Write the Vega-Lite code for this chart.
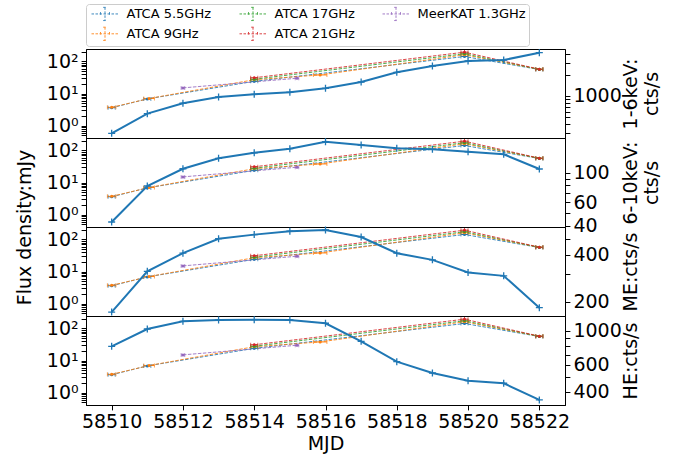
{
"$schema": "https://vega.github.io/schema/vega-lite/v6.json",
"padding": {"left": 14, "top": 3, "right": 5, "bottom": 5},
"background": "white",
"spacing": 0,
"bounds": "flush",
"config": {
 "font": "DejaVu Sans",
 "view": {"stroke": "#000", "strokeWidth": 1},
 "concat": {"spacing": 0},
 "axis": {"labelFont": "DejaVu Sans", "titleFont": "DejaVu Sans", "labelFontSize": 19, "titleFontSize": 19, "titleFontWeight": "normal", "labelColor": "#000", "titleColor": "#000", "tickColor": "#000", "domainColor": "#000", "domainWidth": 1, "tickWidth": 1, "grid": false, "labelOverlap": false, "labelFlush": false, "labelBound": false, "tickSize": 4.9, "labelPadding": 3}
},
"datasets": {
 "radio": [
  {"band":"ATCA 5.5GHz","mjd":58510.0,"mjd_lo":58509.9,"mjd_hi":58510.1,"flux":3.6,"flux_lo":3.3,"flux_hi":3.9},
  {"band":"ATCA 5.5GHz","mjd":58511.0,"mjd_lo":58510.9,"mjd_hi":58511.1,"flux":6.8,"flux_lo":6.3,"flux_hi":7.3},
  {"band":"ATCA 5.5GHz","mjd":58514.0,"mjd_lo":58513.9,"mjd_hi":58514.1,"flux":24,"flux_lo":22,"flux_hi":26},
  {"band":"ATCA 5.5GHz","mjd":58519.9,"mjd_lo":58519.8,"mjd_hi":58520.0,"flux":143,"flux_lo":132,"flux_hi":154},
  {"band":"ATCA 5.5GHz","mjd":58522.0,"mjd_lo":58521.9,"mjd_hi":58522.1,"flux":56,"flux_lo":52,"flux_hi":60},
  {"band":"ATCA 9GHz","mjd":58510.0,"mjd_lo":58509.88,"mjd_hi":58510.12,"flux":3.7,"flux_lo":3.45,"flux_hi":3.95},
  {"band":"ATCA 9GHz","mjd":58511.05,"mjd_lo":58510.9,"mjd_hi":58511.2,"flux":7.0,"flux_lo":6.5,"flux_hi":7.5},
  {"band":"ATCA 9GHz","mjd":58514.0,"mjd_lo":58513.9,"mjd_hi":58514.1,"flux":27,"flux_lo":25,"flux_hi":29},
  {"band":"ATCA 9GHz","mjd":58515.85,"mjd_lo":58515.66,"mjd_hi":58516.04,"flux":38,"flux_lo":35.5,"flux_hi":40.5},
  {"band":"ATCA 9GHz","mjd":58519.9,"mjd_lo":58519.8,"mjd_hi":58520.0,"flux":162,"flux_lo":150,"flux_hi":174},
  {"band":"ATCA 9GHz","mjd":58522.0,"mjd_lo":58521.9,"mjd_hi":58522.1,"flux":57,"flux_lo":53,"flux_hi":61},
  {"band":"ATCA 17GHz","mjd":58514.0,"mjd_lo":58513.9,"mjd_hi":58514.1,"flux":28,"flux_lo":26,"flux_hi":30},
  {"band":"ATCA 17GHz","mjd":58519.9,"mjd_lo":58519.8,"mjd_hi":58520.0,"flux":174,"flux_lo":160,"flux_hi":188},
  {"band":"ATCA 17GHz","mjd":58522.0,"mjd_lo":58521.9,"mjd_hi":58522.1,"flux":57,"flux_lo":53,"flux_hi":61},
  {"band":"ATCA 21GHz","mjd":58514.0,"mjd_lo":58513.9,"mjd_hi":58514.1,"flux":31,"flux_lo":28.5,"flux_hi":33.5},
  {"band":"ATCA 21GHz","mjd":58519.9,"mjd_lo":58519.8,"mjd_hi":58520.0,"flux":195,"flux_lo":168,"flux_hi":225},
  {"band":"ATCA 21GHz","mjd":58522.0,"mjd_lo":58521.9,"mjd_hi":58522.1,"flux":57.5,"flux_lo":53.5,"flux_hi":61.5},
  {"band":"MeerKAT 1.3GHz","mjd":58512.0,"mjd_lo":58511.95,"mjd_hi":58512.05,"flux":15,"flux_lo":14,"flux_hi":16},
  {"band":"MeerKAT 1.3GHz","mjd":58515.2,"mjd_lo":58515.15,"mjd_hi":58515.25,"flux":30,"flux_lo":28,"flux_hi":32}
 ],
 "xray": [
  {"mjd":58510,"soft":293,"hard":42.7,"me":172.5,"he":794},
  {"mjd":58511,"soft":559,"hard":79.3,"me":313,"he":1030},
  {"mjd":58512,"soft":787,"hard":106.7,"me":408,"he":1157},
  {"mjd":58513,"soft":968,"hard":127.6,"me":504,"he":1180},
  {"mjd":58514,"soft":1057,"hard":140.5,"me":535,"he":1186},
  {"mjd":58515,"soft":1130,"hard":150.6,"me":562,"he":1180},
  {"mjd":58516,"soft":1288,"hard":169.8,"me":573,"he":1123},
  {"mjd":58517,"soft":1585,"hard":160.4,"me":517,"he":856},
  {"mjd":58518,"soft":2180,"hard":151.6,"me":408,"he":630},
  {"mjd":58519,"soft":2683,"hard":149,"me":370,"he":531},
  {"mjd":58520,"soft":3162,"hard":142.9,"me":308,"he":473},
  {"mjd":58521,"soft":3266,"hard":136.7,"me":293,"he":455},
  {"mjd":58522,"soft":4155,"hard":106.2,"me":184,"he":354}
 ]
},
"vconcat": [
 {
  "width": 479, "height": 89,
  "resolve": {"scale": {"y": "independent"}},
  "layer": [
   {"data": {"name": "radio"},
    "layer": [
     {"mark": {"type": "line", "strokeDash": [3.5, 1.5], "strokeWidth": 1, "opacity": 0.85},
      "encoding": {
       "x": {"field": "mjd", "type": "quantitative", "scale": {"domain": [58509.28, 58522.72], "nice": false, "zero": false}, "axis": null},
       "y": {"field": "flux", "type": "quantitative", "title": null, "scale": {"type": "log", "domain": [0.41, 245], "nice": false}, "axis": {"orient": "left", "values": [0.5,0.6,0.7,0.8,0.9,1,2,3,4,5,6,7,8,9,10,20,30,40,50,60,70,80,90,100,200], "labelExpr": "datum.value == 1 ? '10⁰' : datum.value == 10 ? '10¹' : datum.value == 100 ? '10²' : ''", "encode": {"ticks": {"update": {"x2": {"signal": "abs(log(datum.value)/LN10 - round(log(datum.value)/LN10)) < 0.001 ? -4.9 : -2.8"}}}}}},
       "color": {"field": "band", "type": "nominal", "scale": {"domain": ["ATCA 5.5GHz", "ATCA 17GHz", "MeerKAT 1.3GHz", "ATCA 9GHz", "ATCA 21GHz"], "range": ["#1f77b4", "#2ca02c", "#9467bd", "#ff7f0e", "#d62728"]},
        "legend": {"orient": "top", "columns": 3, "title": null, "symbolType": "M-2.25,0H2.25M0,-1.1V1.1M-0.3,-1.1H0.3M-0.3,1.1H0.3M-0.75,-0.3V0.3M0.75,-0.3V0.3", "symbolSize": 144, "symbolOffset": 9.5, "symbolStrokeWidth": 1, "symbolDash": [2.5, 1.5], "labelFontSize": 13, "labelFont": "DejaVu Sans", "labelColor": "#000", "labelOffset": 15, "columnPadding": 25, "rowPadding": 1.3, "padding": 3, "strokeColor": "#cccccc", "fillColor": "#ffffff", "cornerRadius": 3, "offset": -4.3}}
      }},
     {"mark": {"type": "rule", "strokeWidth": 1},
      "encoding": {"x": {"field": "mjd_lo", "type": "quantitative", "axis": null}, "x2": {"field": "mjd_hi"}, "y": {"field": "flux", "type": "quantitative", "title": null}, "color": {"field": "band", "type": "nominal"}}},
     {"mark": {"type": "rule", "strokeWidth": 1},
      "encoding": {"x": {"field": "mjd", "type": "quantitative", "axis": null}, "y": {"field": "flux_lo", "type": "quantitative", "title": null}, "y2": {"field": "flux_hi"}, "color": {"field": "band", "type": "nominal"}}},
     {"mark": {"type": "tick", "orient": "vertical", "size": 4, "thickness": 1},
      "encoding": {"x": {"field": "mjd_lo", "type": "quantitative", "axis": null}, "y": {"field": "flux", "type": "quantitative", "title": null}, "color": {"field": "band", "type": "nominal"}}},
     {"mark": {"type": "tick", "orient": "vertical", "size": 4, "thickness": 1},
      "encoding": {"x": {"field": "mjd_hi", "type": "quantitative", "axis": null}, "y": {"field": "flux", "type": "quantitative", "title": null}, "color": {"field": "band", "type": "nominal"}}},
     {"mark": {"type": "point", "filled": true, "size": 9, "opacity": 1},
      "encoding": {"x": {"field": "mjd", "type": "quantitative", "axis": null}, "y": {"field": "flux", "type": "quantitative", "title": null}, "color": {"field": "band", "type": "nominal"}}}
    ]},
   {"data": {"name": "xray"},
    "encoding": {
     "x": {"field": "mjd", "type": "quantitative", "axis": null},
     "y": {"field": "soft", "type": "quantitative", "title": ["1-6keV:", "cts/s"], "scale": {"type": "log", "domain": [251, 4690], "nice": false},
      "axis": {"orient": "right", "values": [300,400,500,600,700,800,900,1000,2000,3000,4000], "labelExpr": "datum.value == 1000 ? '1000' : ''", "titleAngle": 270, "titleBaseline": "top", "titleAlign": "center", "titleX": 56, "titleY": 44.5, "encode": {"ticks": {"update": {"x2": {"signal": "abs(log(datum.value)/LN10 - round(log(datum.value)/LN10)) < 0.001 ? 4.9 : 2.8"}}}}}}
    },
    "layer": [
     {"mark": {"type": "line", "color": "#1f77b4", "strokeWidth": 2}},
     {"mark": {"type": "point", "shape": "M-1,0H1M0,-1V1", "filled": false, "color": "#1f77b4", "strokeWidth": 1.3, "size": 49, "opacity": 1}}
    ]}
  ]
 },
 {
  "width": 479, "height": 89,
  "resolve": {"scale": {"y": "independent"}},
  "layer": [
   {"data": {"name": "radio"},
    "layer": [
     {"mark": {"type": "line", "strokeDash": [3.5, 1.5], "strokeWidth": 1, "opacity": 0.85},
      "encoding": {
       "x": {"field": "mjd", "type": "quantitative", "scale": {"domain": [58509.28, 58522.72], "nice": false, "zero": false}, "axis": null},
       "y": {"field": "flux", "type": "quantitative", "title": null, "scale": {"type": "log", "domain": [0.41, 245], "nice": false}, "axis": {"orient": "left", "values": [0.5,0.6,0.7,0.8,0.9,1,2,3,4,5,6,7,8,9,10,20,30,40,50,60,70,80,90,100,200], "labelExpr": "datum.value == 1 ? '10⁰' : datum.value == 10 ? '10¹' : datum.value == 100 ? '10²' : ''", "encode": {"ticks": {"update": {"x2": {"signal": "abs(log(datum.value)/LN10 - round(log(datum.value)/LN10)) < 0.001 ? -4.9 : -2.8"}}}}}},
       "color": {"field": "band", "type": "nominal"}
      }},
     {"mark": {"type": "rule", "strokeWidth": 1},
      "encoding": {"x": {"field": "mjd_lo", "type": "quantitative", "axis": null}, "x2": {"field": "mjd_hi"}, "y": {"field": "flux", "type": "quantitative", "title": null}, "color": {"field": "band", "type": "nominal"}}},
     {"mark": {"type": "rule", "strokeWidth": 1},
      "encoding": {"x": {"field": "mjd", "type": "quantitative", "axis": null}, "y": {"field": "flux_lo", "type": "quantitative", "title": null}, "y2": {"field": "flux_hi"}, "color": {"field": "band", "type": "nominal"}}},
     {"mark": {"type": "tick", "orient": "vertical", "size": 4, "thickness": 1},
      "encoding": {"x": {"field": "mjd_lo", "type": "quantitative", "axis": null}, "y": {"field": "flux", "type": "quantitative", "title": null}, "color": {"field": "band", "type": "nominal"}}},
     {"mark": {"type": "tick", "orient": "vertical", "size": 4, "thickness": 1},
      "encoding": {"x": {"field": "mjd_hi", "type": "quantitative", "axis": null}, "y": {"field": "flux", "type": "quantitative", "title": null}, "color": {"field": "band", "type": "nominal"}}},
     {"mark": {"type": "point", "filled": true, "size": 9, "opacity": 1},
      "encoding": {"x": {"field": "mjd", "type": "quantitative", "axis": null}, "y": {"field": "flux", "type": "quantitative", "title": null}, "color": {"field": "band", "type": "nominal"}}}
    ]},
   {"data": {"name": "xray"},
    "encoding": {
     "x": {"field": "mjd", "type": "quantitative", "axis": null},
     "y": {"field": "hard", "type": "quantitative", "title": ["6-10keV:", "cts/s"], "scale": {"type": "log", "domain": [39.2, 181], "nice": false},
      "axis": {"orient": "right", "values": [40,50,60,70,80,90,100], "labelExpr": "datum.value == 40 || datum.value == 60 || datum.value == 100 ? datum.label : ''", "titleAngle": 270, "titleBaseline": "top", "titleAlign": "center", "titleX": 56, "titleY": 44.5, "encode": {"ticks": {"update": {"x2": {"signal": "abs(log(datum.value)/LN10 - round(log(datum.value)/LN10)) < 0.001 ? 4.9 : 2.8"}}}}}}
    },
    "layer": [
     {"mark": {"type": "line", "color": "#1f77b4", "strokeWidth": 2}},
     {"mark": {"type": "point", "shape": "M-1,0H1M0,-1V1", "filled": false, "color": "#1f77b4", "strokeWidth": 1.3, "size": 49, "opacity": 1}}
    ]}
  ]
 },
 {
  "width": 479, "height": 89,
  "resolve": {"scale": {"y": "independent"}},
  "layer": [
   {"data": {"name": "radio"},
    "layer": [
     {"mark": {"type": "line", "strokeDash": [3.5, 1.5], "strokeWidth": 1, "opacity": 0.85},
      "encoding": {
       "x": {"field": "mjd", "type": "quantitative", "scale": {"domain": [58509.28, 58522.72], "nice": false, "zero": false}, "axis": null},
       "y": {"field": "flux", "type": "quantitative", "title": "Flux density:mJy", "scale": {"type": "log", "domain": [0.41, 245], "nice": false}, "axis": {"orient": "left", "values": [0.5,0.6,0.7,0.8,0.9,1,2,3,4,5,6,7,8,9,10,20,30,40,50,60,70,80,90,100,200], "labelExpr": "datum.value == 1 ? '10⁰' : datum.value == 10 ? '10¹' : datum.value == 100 ? '10²' : ''", "titleY": 0, "titleX": -52, "titleAngle": 270, "titleBaseline": "bottom", "titleAlign": "center", "encode": {"ticks": {"update": {"x2": {"signal": "abs(log(datum.value)/LN10 - round(log(datum.value)/LN10)) < 0.001 ? -4.9 : -2.8"}}}}}},
       "color": {"field": "band", "type": "nominal"}
      }},
     {"mark": {"type": "rule", "strokeWidth": 1},
      "encoding": {"x": {"field": "mjd_lo", "type": "quantitative", "axis": null}, "x2": {"field": "mjd_hi"}, "y": {"field": "flux", "type": "quantitative", "title": "Flux density:mJy"}, "color": {"field": "band", "type": "nominal"}}},
     {"mark": {"type": "rule", "strokeWidth": 1},
      "encoding": {"x": {"field": "mjd", "type": "quantitative", "axis": null}, "y": {"field": "flux_lo", "type": "quantitative", "title": "Flux density:mJy"}, "y2": {"field": "flux_hi"}, "color": {"field": "band", "type": "nominal"}}},
     {"mark": {"type": "tick", "orient": "vertical", "size": 4, "thickness": 1},
      "encoding": {"x": {"field": "mjd_lo", "type": "quantitative", "axis": null}, "y": {"field": "flux", "type": "quantitative", "title": "Flux density:mJy"}, "color": {"field": "band", "type": "nominal"}}},
     {"mark": {"type": "tick", "orient": "vertical", "size": 4, "thickness": 1},
      "encoding": {"x": {"field": "mjd_hi", "type": "quantitative", "axis": null}, "y": {"field": "flux", "type": "quantitative", "title": "Flux density:mJy"}, "color": {"field": "band", "type": "nominal"}}},
     {"mark": {"type": "point", "filled": true, "size": 9, "opacity": 1},
      "encoding": {"x": {"field": "mjd", "type": "quantitative", "axis": null}, "y": {"field": "flux", "type": "quantitative", "title": "Flux density:mJy"}, "color": {"field": "band", "type": "nominal"}}}
    ]},
   {"data": {"name": "xray"},
    "encoding": {
     "x": {"field": "mjd", "type": "quantitative", "axis": null},
     "y": {"field": "me", "type": "quantitative", "title": "ME:cts/s", "scale": {"type": "log", "domain": [163, 598], "nice": false},
      "axis": {"orient": "right", "values": [200,300,400,500], "labelExpr": "datum.value == 200 || datum.value == 400 ? datum.label : ''", "titleAngle": 270, "titleBaseline": "top", "titleAlign": "center", "titleX": 56, "titleY": 44.5, "encode": {"ticks": {"update": {"x2": {"signal": "abs(log(datum.value)/LN10 - round(log(datum.value)/LN10)) < 0.001 ? 4.9 : 2.8"}}}}}}
    },
    "layer": [
     {"mark": {"type": "line", "color": "#1f77b4", "strokeWidth": 2}},
     {"mark": {"type": "point", "shape": "M-1,0H1M0,-1V1", "filled": false, "color": "#1f77b4", "strokeWidth": 1.3, "size": 49, "opacity": 1}}
    ]}
  ]
 },
 {
  "width": 479, "height": 89,
  "resolve": {"scale": {"y": "independent"}},
  "layer": [
   {"data": {"name": "radio"},
    "layer": [
     {"mark": {"type": "line", "strokeDash": [3.5, 1.5], "strokeWidth": 1, "opacity": 0.85},
      "encoding": {
       "x": {"field": "mjd", "type": "quantitative", "title": "MJD", "scale": {"domain": [58509.28, 58522.72], "nice": false, "zero": false}, "axis": {"values": [58510,58512,58514,58516,58518,58520,58522], "format": "d", "titlePadding": 3}},
       "y": {"field": "flux", "type": "quantitative", "title": null, "scale": {"type": "log", "domain": [0.41, 245], "nice": false}, "axis": {"orient": "left", "values": [0.5,0.6,0.7,0.8,0.9,1,2,3,4,5,6,7,8,9,10,20,30,40,50,60,70,80,90,100,200], "labelExpr": "datum.value == 1 ? '10⁰' : datum.value == 10 ? '10¹' : datum.value == 100 ? '10²' : ''", "encode": {"ticks": {"update": {"x2": {"signal": "abs(log(datum.value)/LN10 - round(log(datum.value)/LN10)) < 0.001 ? -4.9 : -2.8"}}}}}},
       "color": {"field": "band", "type": "nominal"}
      }},
     {"mark": {"type": "rule", "strokeWidth": 1},
      "encoding": {"x": {"field": "mjd_lo", "type": "quantitative", "title": "MJD"}, "x2": {"field": "mjd_hi"}, "y": {"field": "flux", "type": "quantitative", "title": null}, "color": {"field": "band", "type": "nominal"}}},
     {"mark": {"type": "rule", "strokeWidth": 1},
      "encoding": {"x": {"field": "mjd", "type": "quantitative", "title": "MJD"}, "y": {"field": "flux_lo", "type": "quantitative", "title": null}, "y2": {"field": "flux_hi"}, "color": {"field": "band", "type": "nominal"}}},
     {"mark": {"type": "tick", "orient": "vertical", "size": 4, "thickness": 1},
      "encoding": {"x": {"field": "mjd_lo", "type": "quantitative", "title": "MJD"}, "y": {"field": "flux", "type": "quantitative", "title": null}, "color": {"field": "band", "type": "nominal"}}},
     {"mark": {"type": "tick", "orient": "vertical", "size": 4, "thickness": 1},
      "encoding": {"x": {"field": "mjd_hi", "type": "quantitative", "title": "MJD"}, "y": {"field": "flux", "type": "quantitative", "title": null}, "color": {"field": "band", "type": "nominal"}}},
     {"mark": {"type": "point", "filled": true, "size": 9, "opacity": 1},
      "encoding": {"x": {"field": "mjd", "type": "quantitative", "title": "MJD"}, "y": {"field": "flux", "type": "quantitative", "title": null}, "color": {"field": "band", "type": "nominal"}}}
    ]},
   {"data": {"name": "xray"},
    "encoding": {
     "x": {"field": "mjd", "type": "quantitative", "title": "MJD"},
     "y": {"field": "he", "type": "quantitative", "title": "HE:cts/s", "scale": {"type": "log", "domain": [328, 1253], "nice": false},
      "axis": {"orient": "right", "values": [400,500,600,700,800,900,1000], "labelExpr": "datum.value == 1000 ? '1000' : datum.value == 400 || datum.value == 600 ? datum.label : ''", "titleAngle": 270, "titleBaseline": "top", "titleAlign": "center", "titleX": 56, "titleY": 44.5, "encode": {"ticks": {"update": {"x2": {"signal": "abs(log(datum.value)/LN10 - round(log(datum.value)/LN10)) < 0.001 ? 4.9 : 2.8"}}}}}}
    },
    "layer": [
     {"mark": {"type": "line", "color": "#1f77b4", "strokeWidth": 2}},
     {"mark": {"type": "point", "shape": "M-1,0H1M0,-1V1", "filled": false, "color": "#1f77b4", "strokeWidth": 1.3, "size": 49, "opacity": 1}}
    ]}
  ]
 }
]
}
